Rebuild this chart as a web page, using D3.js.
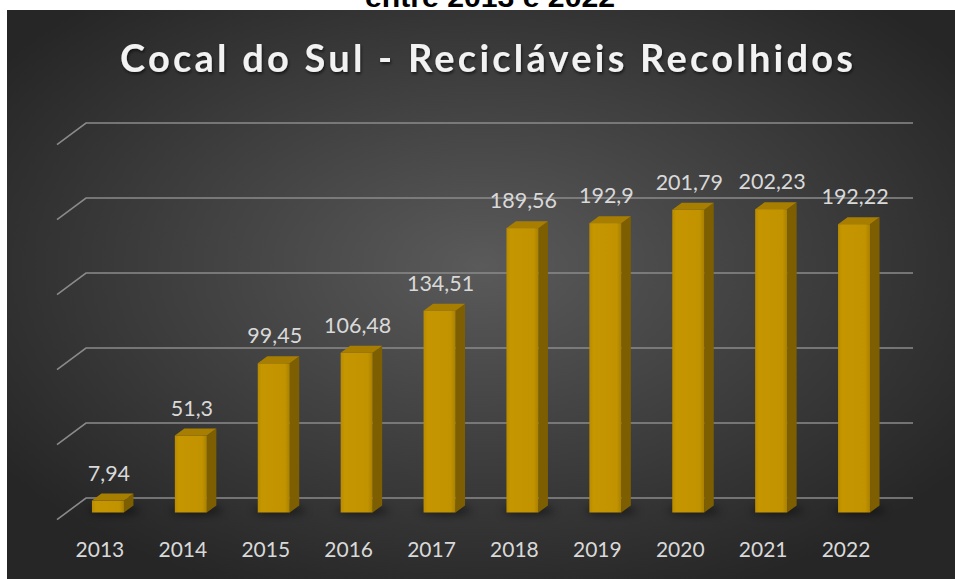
<!DOCTYPE html>
<html>
<head>
<meta charset="utf-8">
<script src="https://cdn.jsdelivr.net/npm/d3@7"></script>
<style>
  body { margin: 0; background: #ffffff; }
  svg { display: block; }
</style>
</head>
<body>
<div id="graph"></div>
<script>
// data
var years = ["2013", "2014", "2015", "2016", "2017", "2018", "2019", "2020", "2021", "2022"];
var values = [7.94, 51.3, 99.45, 106.48, 134.51, 189.56, 192.9, 201.79, 202.23, 192.22];
var yTicks = [0, 50, 100, 150, 200, 250];
var title = "Cocal do Sul - Recicláveis Recolhidos";
var subtitle = "entre 2013 e 2022";

// measurements
var width = 955;
var height = 579;
var panel = { x: 7, y: 10 };
var depth = { dx: 9.5, dy: -7 };       // bar top/side offset
var wall = { dx: -29, dy: 21.7 };      // left wall diagonal
var floorShift = 14.5;                 // bars sit in front of the back wall

var chart = d3.select("#graph").append("svg")
    .attr("width", width)
    .attr("height", height);

var defs = chart.append("defs");

var bg = defs.append("radialGradient")
    .attr("id", "bg")
    .attr("cx", "50%").attr("cy", "45%").attr("r", "62%");
bg.append("stop").attr("offset", "0%").attr("stop-color", "#5a5a5a");
bg.append("stop").attr("offset", "100%").attr("stop-color", "#262626");

var front = defs.append("linearGradient")
    .attr("id", "front").attr("x1", 0).attr("x2", 1).attr("y1", 0).attr("y2", 0);
front.append("stop").attr("offset", "0%").attr("stop-color", "#b88a00");
front.append("stop").attr("offset", "12%").attr("stop-color", "#c59600");
front.append("stop").attr("offset", "85%").attr("stop-color", "#c29300");
front.append("stop").attr("offset", "100%").attr("stop-color", "#a98000");

var shadow = defs.append("filter").attr("id", "shadow")
    .attr("x", "-20%").attr("y", "-20%").attr("width", "140%").attr("height", "160%");
shadow.append("feDropShadow")
    .attr("dx", 1).attr("dy", 2).attr("stdDeviation", 1.5)
    .attr("flood-color", "#000").attr("flood-opacity", 0.6);

var blur = defs.append("filter").attr("id", "blur")
    .attr("x", "-50%").attr("y", "-100%").attr("width", "200%").attr("height", "300%");
blur.append("feGaussianBlur").attr("stdDeviation", 4);

// subtitle, cut off at the top as in the original
chart.append("text")
    .attr("x", 490)
    .attr("y", 7)
    .attr("text-anchor", "middle")
    .attr("textLength", 250)
    .attr("lengthAdjust", "spacingAndGlyphs")
    .style("font-family", "Liberation Sans, Arial, sans-serif")
    .style("font-weight", "bold")
    .style("font-size", "28px")
    .style("fill", "#000")
    .text(subtitle);

// dark panel
chart.append("rect")
    .attr("x", panel.x)
    .attr("y", panel.y)
    .attr("width", width - panel.x)
    .attr("height", height - panel.y)
    .attr("fill", "url(#bg)");

// scales
var yScale = d3.scaleLinear()
    .domain([0, 250])
    .range([498, 123]);

var xScale = d3.scaleBand()
    .domain(years)
    .range([50.5, 911.5])
    .paddingInner(0.614)
    .paddingOuter(0.5);

var wallX = 86;
var wallRight = 913;

// gridlines (back wall + left wall)
var grid = chart.append("g")
    .attr("stroke", "#8a8a8a")
    .attr("stroke-width", 1.6)
    .attr("fill", "none");

grid.selectAll(".grid")
    .data(yTicks)
    .enter().append("path")
      .attr("class", "grid")
      .attr("d", function (d) {
          var yy = yScale(d);
          return "M" + (wallX + wall.dx) + "," + (yy + wall.dy) +
                 "L" + wallX + "," + yy + "L" + wallRight + "," + yy;
      });

// bars
var plot = chart.append("g");

var bars = plot.selectAll(".bar")
    .data(years.map(function (y, i) { return { year: y, value: values[i] }; }))
    .enter().append("g")
      .attr("class", "bar");

function x0(d) { return xScale(d.year); }
function x1(d) { return xScale(d.year) + xScale.bandwidth(); }
function yTop(d) { return yScale(d.value) + floorShift; }
var yBase = yScale(0) + floorShift;

// floor shadow
bars.append("ellipse")
    .attr("cx", function (d) { return x0(d) + xScale.bandwidth() / 2 + 6; })
    .attr("cy", yBase - 2)
    .attr("rx", 26)
    .attr("ry", 4)
    .attr("fill", "#000")
    .attr("opacity", 0.55)
    .attr("filter", "url(#blur)");

// side face
bars.append("path")
    .attr("fill", "#7d5e00")
    .attr("d", function (d) {
        return "M" + x1(d) + "," + yTop(d) +
               "L" + (x1(d) + depth.dx) + "," + (yTop(d) + depth.dy) +
               "L" + (x1(d) + depth.dx) + "," + (yBase + depth.dy) +
               "L" + x1(d) + "," + yBase + "Z";
    });

// top face
bars.append("path")
    .attr("fill", "#a87e00")
    .attr("d", function (d) {
        return "M" + x0(d) + "," + yTop(d) +
               "L" + (x0(d) + depth.dx) + "," + (yTop(d) + depth.dy) +
               "L" + (x1(d) + depth.dx) + "," + (yTop(d) + depth.dy) +
               "L" + x1(d) + "," + yTop(d) + "Z";
    });

// front face
bars.append("rect")
    .attr("x", x0)
    .attr("y", yTop)
    .attr("width", xScale.bandwidth())
    .attr("height", function (d) { return yBase - yTop(d); })
    .attr("fill", "url(#front)");

// value labels
bars.append("text")
    .attr("x", function (d) { return x0(d) + xScale.bandwidth() / 2 + 1; })
    .attr("y", function (d) { return yTop(d) - 20; })
    .attr("text-anchor", "middle")
    .style("font-family", "Lato, sans-serif")
    .style("font-size", "21.5px")
    .style("fill", "#d9d9d9")
    .text(function (d) { return String(d.value).replace(".", ","); });

// category labels
chart.append("g").selectAll(".cat")
    .data(years)
    .enter().append("text")
      .attr("class", "cat")
      .attr("x", function (d) { return xScale(d) + xScale.bandwidth() / 2 - 8; })
      .attr("y", 557)
      .attr("text-anchor", "middle")
      .style("font-family", "Lato, sans-serif")
      .style("font-size", "21px")
      .style("fill", "#d9d9d9")
      .text(function (d) { return d; });

// title
chart.append("text")
    .attr("x", 486.5)
    .attr("y", 72)
    .attr("text-anchor", "middle")
    .attr("textLength", 733)
    .attr("lengthAdjust", "spacing")
    .attr("filter", "url(#shadow)")
    .style("font-family", "Lato, sans-serif")
    .style("font-weight", "bold")
    .style("font-size", "38px")
    .style("fill", "#f2f2f2")
    .text(title);
</script>
</body>
</html>
